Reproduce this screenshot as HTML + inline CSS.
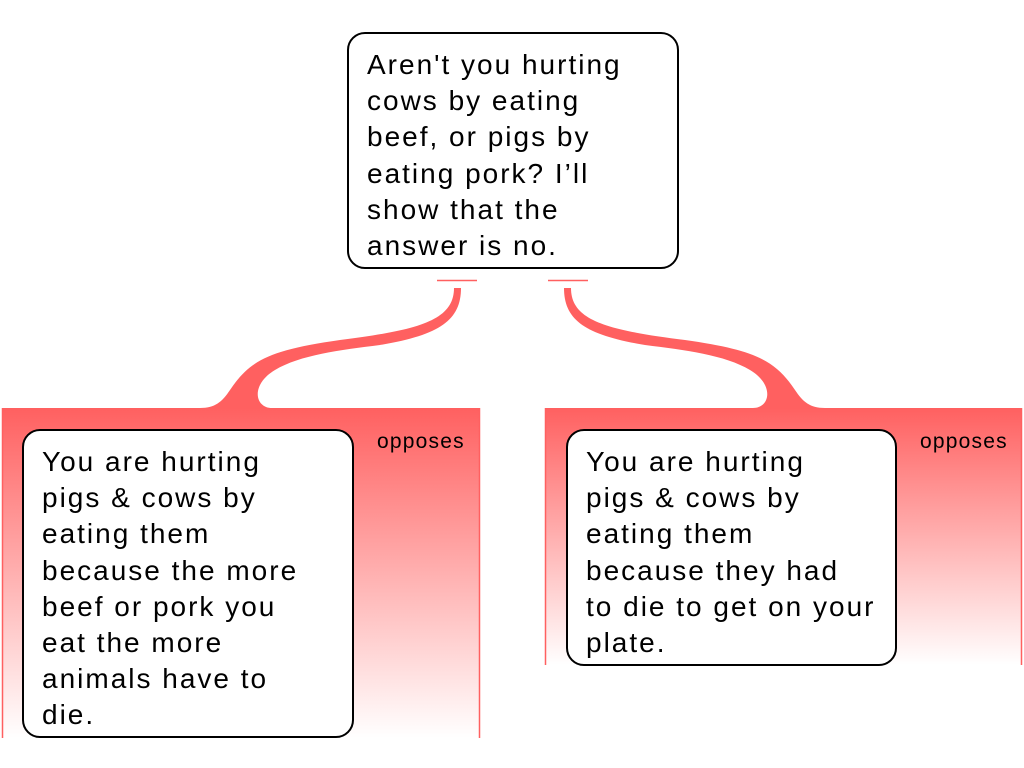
<!DOCTYPE html>
<html><head><meta charset="utf-8"><style>
html,body{margin:0;padding:0;background:#fff;}
body{width:1024px;height:768px;position:relative;overflow:hidden;font-family:"Liberation Sans",sans-serif;}
.box{position:absolute;background:#fff;border:2px solid #000;border-radius:18px;box-sizing:border-box;font-size:28px;line-height:36.2px;letter-spacing:2px;color:#000;padding:13px 0 0 18px;white-space:nowrap;}
.op{position:absolute;font-size:21px;letter-spacing:1.2px;color:#000;}
</style></head><body>
<svg width="1024" height="768" style="position:absolute;left:0;top:0">
<defs>
<linearGradient id="g" x1="0" y1="0" x2="0" y2="1">
<stop offset="0" stop-color="#ff6060"/>
<stop offset="1" stop-color="#ffffff"/>
</linearGradient>
</defs>
<rect x="2" y="408" width="478" height="330" fill="url(#g)"/>
<line x1="2.5" y1="408" x2="2.5" y2="738" stroke="#ff6060" stroke-width="1.5"/>
<line x1="479.5" y1="408" x2="479.5" y2="738" stroke="#ff6060" stroke-width="1.5"/>
<rect x="545" y="408" width="477" height="257" fill="url(#g)"/>
<line x1="545.5" y1="408" x2="545.5" y2="665" stroke="#ff6060" stroke-width="1.5"/>
<line x1="1021.5" y1="408" x2="1021.5" y2="665" stroke="#ff6060" stroke-width="1.5"/>
<g>
<line x1="437" y1="280.5" x2="477" y2="280.5" stroke="#ff6060" stroke-width="1.5"/>
<path d="M454,288 C454,320 420,330 340,340 C270,350 250,360 230,390 C222,402 215,408 200,408 L272,408 C255,408 250,385 275,370 C300,355 340,350 380,345 C440,335 461,320 461,288 Z" fill="#ff6060"/>
</g>
<g transform="translate(1025,0) scale(-1,1)">
<line x1="437" y1="280.5" x2="477" y2="280.5" stroke="#ff6060" stroke-width="1.5"/>
<path d="M454,288 C454,320 420,330 340,340 C270,350 250,360 230,390 C222,402 215,408 200,408 L272,408 C255,408 250,385 275,370 C300,355 340,350 380,345 C440,335 461,320 461,288 Z" fill="#ff6060"/>
</g>
</svg>
<div class="box" style="left:347px;top:32px;width:332px;height:237px;">Aren't you hurting<br>cows by eating<br>beef, or pigs by<br>eating pork? I’ll<br>show that the<br>answer is no.</div>
<div class="box" style="left:22px;top:429px;width:332px;height:309px;">You are hurting<br>pigs &amp; cows by<br>eating them<br>because the more<br>beef or pork you<br>eat the more<br>animals have to<br>die.</div>
<div class="box" style="left:566px;top:429px;width:331px;height:237px;">You are hurting<br>pigs &amp; cows by<br>eating them<br>because they had<br>to die to get on your<br>plate.</div>
<div class="op" style="left:377px;top:430px;">opposes</div>
<div class="op" style="left:920px;top:430px;">opposes</div>
</body></html>
